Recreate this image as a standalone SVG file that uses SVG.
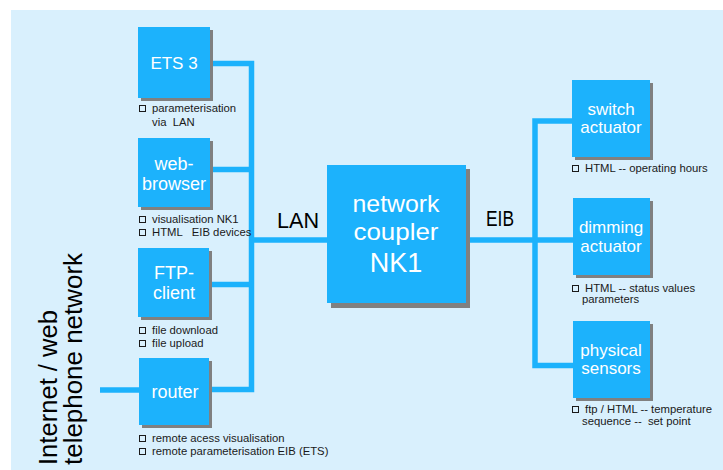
<svg xmlns="http://www.w3.org/2000/svg" width="723" height="470" viewBox="0 0 723 470">
<style>
.bg{fill:#d9f0fd}
.box{fill:#1cb2fc}
.sh{fill:#808080}
.wire{fill:none;stroke:#1cb2fc;stroke-width:5.5;stroke-linejoin:miter;stroke-linecap:butt}
.nt{font-family:"Liberation Sans",Arial,sans-serif;fill:#ffffff;text-anchor:middle}
.cap{font-family:"Liberation Sans",Arial,sans-serif;font-size:11.3px;fill:#1a1a1a;white-space:pre}
.cb{fill:none;stroke:#1a1a1a;stroke-width:1}
.lbl{font-family:"Liberation Sans",Arial,sans-serif;fill:#000000}
</style>
<rect x="0" y="0" width="723" height="470" fill="#ffffff"/>
<rect class="bg" x="11" y="10" width="712" height="460"/>

<g id="connectors">
  <path class="wire" d="M210,63.5 H251.5 V389.5 H209"/>
  <path class="wire" d="M210,169.5 H251.5"/>
  <path class="wire" d="M209,284.5 H251.5"/>
  <path class="wire" d="M251.5,240 H327"/>
  <path class="wire" d="M100,390 H139"/>
  <path class="wire" d="M466,240 H573"/>
  <path class="wire" d="M572,121 H535 V365.5 H573"/>
</g>

<g id="label-network">
  <text class="lbl" transform="translate(57,465) rotate(-90)" font-size="25" textLength="155" lengthAdjust="spacingAndGlyphs">Internet / web</text>
  <text class="lbl" transform="translate(82,465) rotate(-90)" font-size="25" textLength="212" lengthAdjust="spacingAndGlyphs">telephone network</text>
</g>
<g id="label-lan"><text class="lbl" x="277" y="228" font-size="22" textLength="42" lengthAdjust="spacingAndGlyphs">LAN</text></g>
<g id="label-eib"><text class="lbl" x="486" y="226" font-size="22" textLength="28" lengthAdjust="spacingAndGlyphs">EIB</text></g>

<g id="ets3">
  <rect class="sh" x="141" y="30" width="72" height="71"/>
  <rect class="box" x="138" y="27" width="72" height="71"/>
  <text class="nt" x="174" y="69" font-size="17">ETS 3</text>
  <rect class="cb" x="139.5" y="105.5" width="6" height="6"/>
  <text class="cap" x="152" y="112">parameterisation</text>
  <text class="cap" x="152" y="126">via  LAN</text>
</g>

<g id="web-browser">
  <rect class="sh" x="141" y="141" width="72" height="69"/>
  <rect class="box" x="138" y="138" width="72" height="69"/>
  <text class="nt" x="174" y="170" font-size="18">web-</text>
  <text class="nt" x="174" y="190" font-size="18">browser</text>
  <rect class="cb" x="139.5" y="216.5" width="6" height="6"/>
  <text class="cap" x="152" y="223">visualisation NK1</text>
  <rect class="cb" x="139.5" y="229.5" width="6" height="6"/>
  <text class="cap" x="152" y="236">HTML   EIB devices</text>
</g>

<g id="ftp-client">
  <rect class="sh" x="141" y="251" width="71" height="69"/>
  <rect class="box" x="138" y="248" width="71" height="69"/>
  <text class="nt" x="174" y="279" font-size="18">FTP-</text>
  <text class="nt" x="174" y="299" font-size="18">client</text>
  <rect class="cb" x="139.5" y="327.5" width="6" height="6"/>
  <text class="cap" x="152" y="334">file download</text>
  <rect class="cb" x="139.5" y="340.5" width="6" height="6"/>
  <text class="cap" x="152" y="347">file upload</text>
</g>

<g id="router">
  <rect class="sh" x="142" y="361" width="70" height="67"/>
  <rect class="box" x="139" y="358" width="70" height="67"/>
  <text class="nt" x="175" y="398" font-size="18">router</text>
  <rect class="cb" x="139.5" y="435.5" width="6" height="6"/>
  <text class="cap" x="152" y="442">remote acess visualisation</text>
  <rect class="cb" x="139.5" y="448.5" width="6" height="6"/>
  <text class="cap" x="152" y="455">remote parameterisation EIB (ETS)</text>
</g>

<g id="nk1">
  <rect class="sh" x="331" y="169" width="139" height="139"/>
  <rect class="box" x="327" y="165" width="139" height="138"/>
  <text class="nt" x="396" y="212" font-size="24" textLength="87" lengthAdjust="spacingAndGlyphs">network</text>
  <text class="nt" x="396" y="240" font-size="24" textLength="85" lengthAdjust="spacingAndGlyphs">coupler</text>
  <text class="nt" x="396" y="272" font-size="27">NK1</text>
</g>

<g id="switch-actuator">
  <rect class="sh" x="575" y="83" width="78" height="77"/>
  <rect class="box" x="572" y="80" width="78" height="77"/>
  <text class="nt" x="611" y="115" font-size="17">switch</text>
  <text class="nt" x="611" y="133" font-size="17">actuator</text>
  <rect class="cb" x="572.5" y="165.5" width="6" height="6"/>
  <text class="cap" x="585" y="172">HTML -- operating hours</text>
</g>

<g id="dimming-actuator">
  <rect class="sh" x="576" y="201" width="77" height="77"/>
  <rect class="box" x="573" y="198" width="77" height="77"/>
  <text class="nt" x="611" y="233" font-size="17">dimming</text>
  <text class="nt" x="611" y="252" font-size="17">actuator</text>
  <rect class="cb" x="572.5" y="285.5" width="6" height="6"/>
  <text class="cap" x="585" y="292">HTML -- status values</text>
  <text class="cap" x="582" y="303">parameters</text>
</g>

<g id="physical-sensors">
  <rect class="sh" x="576" y="324" width="77" height="77"/>
  <rect class="box" x="573" y="321" width="77" height="77"/>
  <text class="nt" x="611" y="356" font-size="17">physical</text>
  <text class="nt" x="611" y="374" font-size="17">sensors</text>
  <rect class="cb" x="572.5" y="406.5" width="6" height="6"/>
  <text class="cap" x="585" y="413">ftp / HTML -- temperature</text>
  <text class="cap" x="582" y="425">sequence --  set point</text>
</g>
</svg>
